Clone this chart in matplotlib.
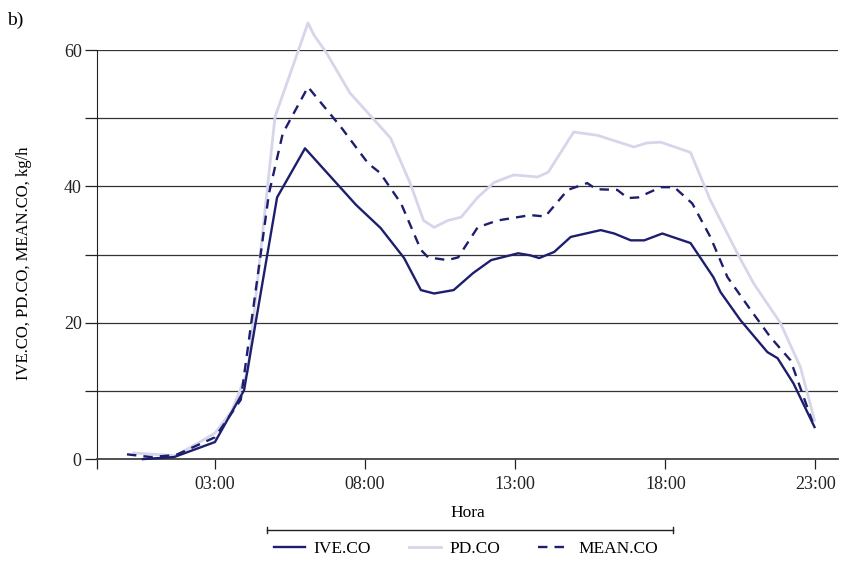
import matplotlib.pyplot as plt
from matplotlib.lines import Line2D

plt.rcParams['font.family'] = ['Liberation Serif', 'DejaVu Serif']

# hours of day and emission values (kg/h)
ive_h = [0.6, 1.64, 3.0, 3.97, 5.07, 6.0, 7.7, 8.52, 9.3, 9.86, 10.3, 10.95, 11.6, 12.2,
         13.1, 13.5, 13.8, 14.3, 14.85, 15.85, 16.3, 16.85, 17.3, 17.9, 18.84, 19.6,
         19.84, 20.5, 21.4, 21.74, 22.27, 22.97]
ive_co = [0.0, 0.3, 2.5, 10.1, 38.4, 45.6, 37.3, 33.9, 29.5, 24.8, 24.3, 24.8, 27.3, 29.2,
          30.2, 29.9, 29.5, 30.4, 32.6, 33.6, 33.1, 32.1, 32.1, 33.1, 31.7, 26.7,
          24.5, 20.4, 15.7, 14.8, 11.1, 4.7]

pd_h = [0.3, 1.7, 3.0, 3.55, 4.1, 5.0, 6.1, 6.3, 6.7, 7.5, 8.26, 8.85, 9.5, 9.95, 10.3,
        10.75, 11.2, 11.75, 12.3, 12.95, 13.75, 14.1, 14.95, 15.75, 16.95, 17.4, 17.85,
        18.84, 19.5, 20.4, 20.94, 21.83, 22.5, 22.97]
pd_co = [0.9, 0.5, 3.8, 7.0, 13.0, 50.2, 64.0, 62.2, 59.7, 53.7, 50.0, 47.1, 40.5, 35.0,
         34.0, 35.0, 35.5, 38.4, 40.6, 41.7, 41.4, 42.1, 48.0, 47.5, 45.8, 46.4, 46.5,
         45.0, 38.0, 30.2, 25.8, 20.0, 13.5, 5.7]

mean_h = [0.07, 0.87, 1.7, 3.0, 3.86, 4.8, 5.26, 6.1, 7.2, 8.1, 8.5, 9.2, 9.86, 10.1,
          10.75, 11.1, 11.75, 12.4, 13.5, 14.0, 14.75, 15.4, 15.7, 16.4, 16.75, 17.1,
          17.85, 18.3, 18.9, 19.5, 20.07, 20.84, 21.5, 22.17, 22.9]
mean_co = [0.7, 0.3, 0.6, 3.2, 8.7, 39.0, 47.8, 54.6, 48.7, 43.4, 42.0, 37.5, 30.7, 29.6,
           29.2, 29.6, 34.0, 35.0, 35.8, 35.6, 39.5, 40.5, 39.6, 39.5, 38.3, 38.4,
           39.9, 39.9, 37.5, 32.6, 26.7, 21.9, 17.9, 14.5, 5.5]

tick_pos = [-0.93, 3, 8, 13, 18, 23]
tick_lbl = ['', '03:00', '08:00', '13:00', '18:00', '23:00']

navy = '#1e1e6e'
lav = '#d6d6ea'

fig = plt.figure(figsize=(8.43, 5.64), dpi=100)
ax = fig.add_axes([0.115, 0.186, 0.879, 0.725])

ax.plot(pd_h, pd_co, color=lav, lw=2, clip_on=False, zorder=3)
ax.plot(mean_h, mean_co, color=navy, lw=1.7, ls=(0, (4, 3)), clip_on=False, zorder=4)
ax.plot(ive_h, ive_co, color=navy, lw=1.7, clip_on=False, zorder=5)

ax.set_xlim(-0.93, 23.75)
ax.set_ylim(0, 60)
ax.set_yticks(range(0, 70, 10))
ax.set_yticklabels(['0', '', '20', '', '40', '', '60'])
ax.set_xticks(tick_pos)
ax.set_xticklabels(tick_lbl)
ax.grid(axis='y', color='#333333', lw=0.9)
ax.set_axisbelow(True)
for s in ['top', 'right']:
    ax.spines[s].set_visible(False)
ax.spines['left'].set_color('#222222')
ax.spines['bottom'].set_color('#444444')
ax.spines['bottom'].set_linewidth(1.3)
ax.tick_params(axis='y', length=9, width=0.9, labelsize=13, colors='#222222', pad=2)
ax.tick_params(axis='x', length=7, width=0.9, labelsize=13, colors='#222222', pad=5)

ax.set_xlabel('Hora', fontsize=12.5, labelpad=9)
ax.set_ylabel('IVE.CO, PD.CO, MEAN.CO, kg/h', fontsize=12)
ax.yaxis.set_label_coords(-0.087, 0.48)
fig.text(0.008, 0.955, 'b)', fontsize=14)

# bracket line under the axis title
y0 = 1 - 530 / 564
fig.add_artist(Line2D([267 / 843, 673 / 843], [y0, y0], color='#222222', lw=1))
for xp in [267, 673]:
    fig.add_artist(Line2D([xp / 843, xp / 843], [y0 - 0.006, y0 + 0.006], color='#222222', lw=1))

handles = [Line2D([], [], color=navy, lw=1.7),
           Line2D([], [], color=lav, lw=2),
           Line2D([], [], color=navy, lw=1.7, ls=(0, (4, 3)))]
fig.legend(handles, ['IVE.CO', 'PD.CO', 'MEAN.CO'], loc='center',
           bbox_to_anchor=(466 / 843, 1 - 549 / 564), ncol=3, frameon=False,
           fontsize=12.5, handlelength=1.8, columnspacing=2.2, handletextpad=0.5)

fig.savefig('out.png', dpi=100)
